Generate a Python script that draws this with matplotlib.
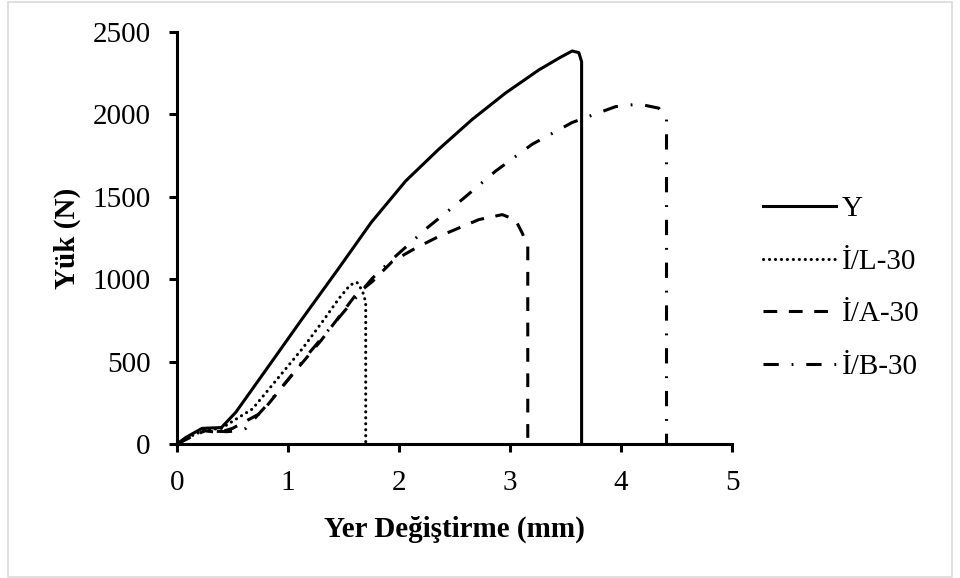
import matplotlib.pyplot as plt
from matplotlib.patches import Rectangle

# load-displacement curves
y_disp = [0, 0.08, 0.225, 0.4, 0.53, 0.83, 1.13, 1.45, 1.75, 2.06, 2.36, 2.66,
          2.96, 3.26, 3.45, 3.56, 3.62, 3.645, 3.645]
y_load = [0, 40, 95, 100, 193, 477, 762, 1060, 1345, 1596, 1790, 1970,
          2130, 2270, 2345, 2385, 2375, 2320, 0]

l_disp = [0, 0.1, 0.25, 0.4, 0.51, 0.68, 0.83, 0.98, 1.13, 1.31, 1.46, 1.56,
          1.62, 1.67, 1.70, 1.70]
l_load = [0, 40, 85, 95, 142, 213, 335, 457, 579, 742, 884, 965,
          982, 930, 860, 0]

a_disp = [0, 0.1, 0.25, 0.38, 0.5, 0.76, 1.0, 1.3, 1.61, 1.76, 1.94, 2.15,
          2.36, 2.72, 2.93, 3.05, 3.11, 3.16, 3.16]
a_load = [0, 35, 80, 70, 95, 190, 390, 630, 905, 986, 1108, 1189,
          1260, 1362, 1392, 1360, 1280, 1200, 0]

b_disp = [0, 0.1, 0.25, 0.45, 0.55, 0.62, 0.8, 1.0, 1.2, 1.5, 1.76, 1.95,
          2.26, 2.57, 2.87, 3.2, 3.56, 3.95, 4.16, 4.34, 4.41, 4.41]
b_load = [0, 35, 80, 75, 80, 95, 230, 390, 560, 800, 1006, 1128,
          1315, 1484, 1656, 1819, 1951, 2047, 2063, 2038, 1980, 0]

labels = ["Y", "İ/L-30", "İ/A-30", "İ/B-30"]

plt.rcParams["font.family"] = ["Liberation Serif", "DejaVu Serif"]

fig = plt.figure(figsize=(9.6, 5.78), dpi=100)
ax = fig.add_axes([0.1844, 0.2318, 0.5781, 0.7128])

lw = 2.2
ax.plot(y_disp, y_load, color="black", lw=lw, label=labels[0])
ax.plot(l_disp, l_load, color="black", lw=lw, linestyle=(0, (0.05, 1.9)),
        dash_capstyle="round", label=labels[1])
ax.plot(a_disp, a_load, color="black", lw=lw, linestyle=(0, (4.5, 3.8)),
        label=labels[2])
ax.plot(b_disp, b_load, color="black", lw=lw,
        linestyle=(0, (5.0, 4.2, 0.6, 4.2)), label=labels[3])

ax.set_xlim(0, 5)
ax.set_ylim(0, 2500)
ax.set_xticks([0, 1, 2, 3, 4, 5])
ax.set_yticks([0, 500, 1000, 1500, 2000, 2500])

for side in ["top", "right"]:
    ax.spines[side].set_visible(False)
for side in ["left", "bottom"]:
    ax.spines[side].set_linewidth(2.2)

ax.tick_params(axis="both", direction="out", length=6, width=2.2,
               labelsize=21, pad=13)

ax.set_xlabel("Yer Değiştirme (mm)", fontsize=21, fontweight="bold",
              labelpad=14)
ax.set_ylabel("Yük (N)", fontsize=21, fontweight="bold", labelpad=8)

ax.legend(loc="center left", bbox_to_anchor=(1.035, 0.379), frameon=False,
          fontsize=21, handlelength=2.5, handletextpad=0.2,
          labelspacing=0.9, borderaxespad=0)

fig.patches.append(Rectangle((8 / 960, 1 / 578), 944 / 960, 575 / 578,
                             transform=fig.transFigure, fill=False,
                             edgecolor="#d9d9d9", lw=1.2))

fig.savefig("out.png", dpi=100)
